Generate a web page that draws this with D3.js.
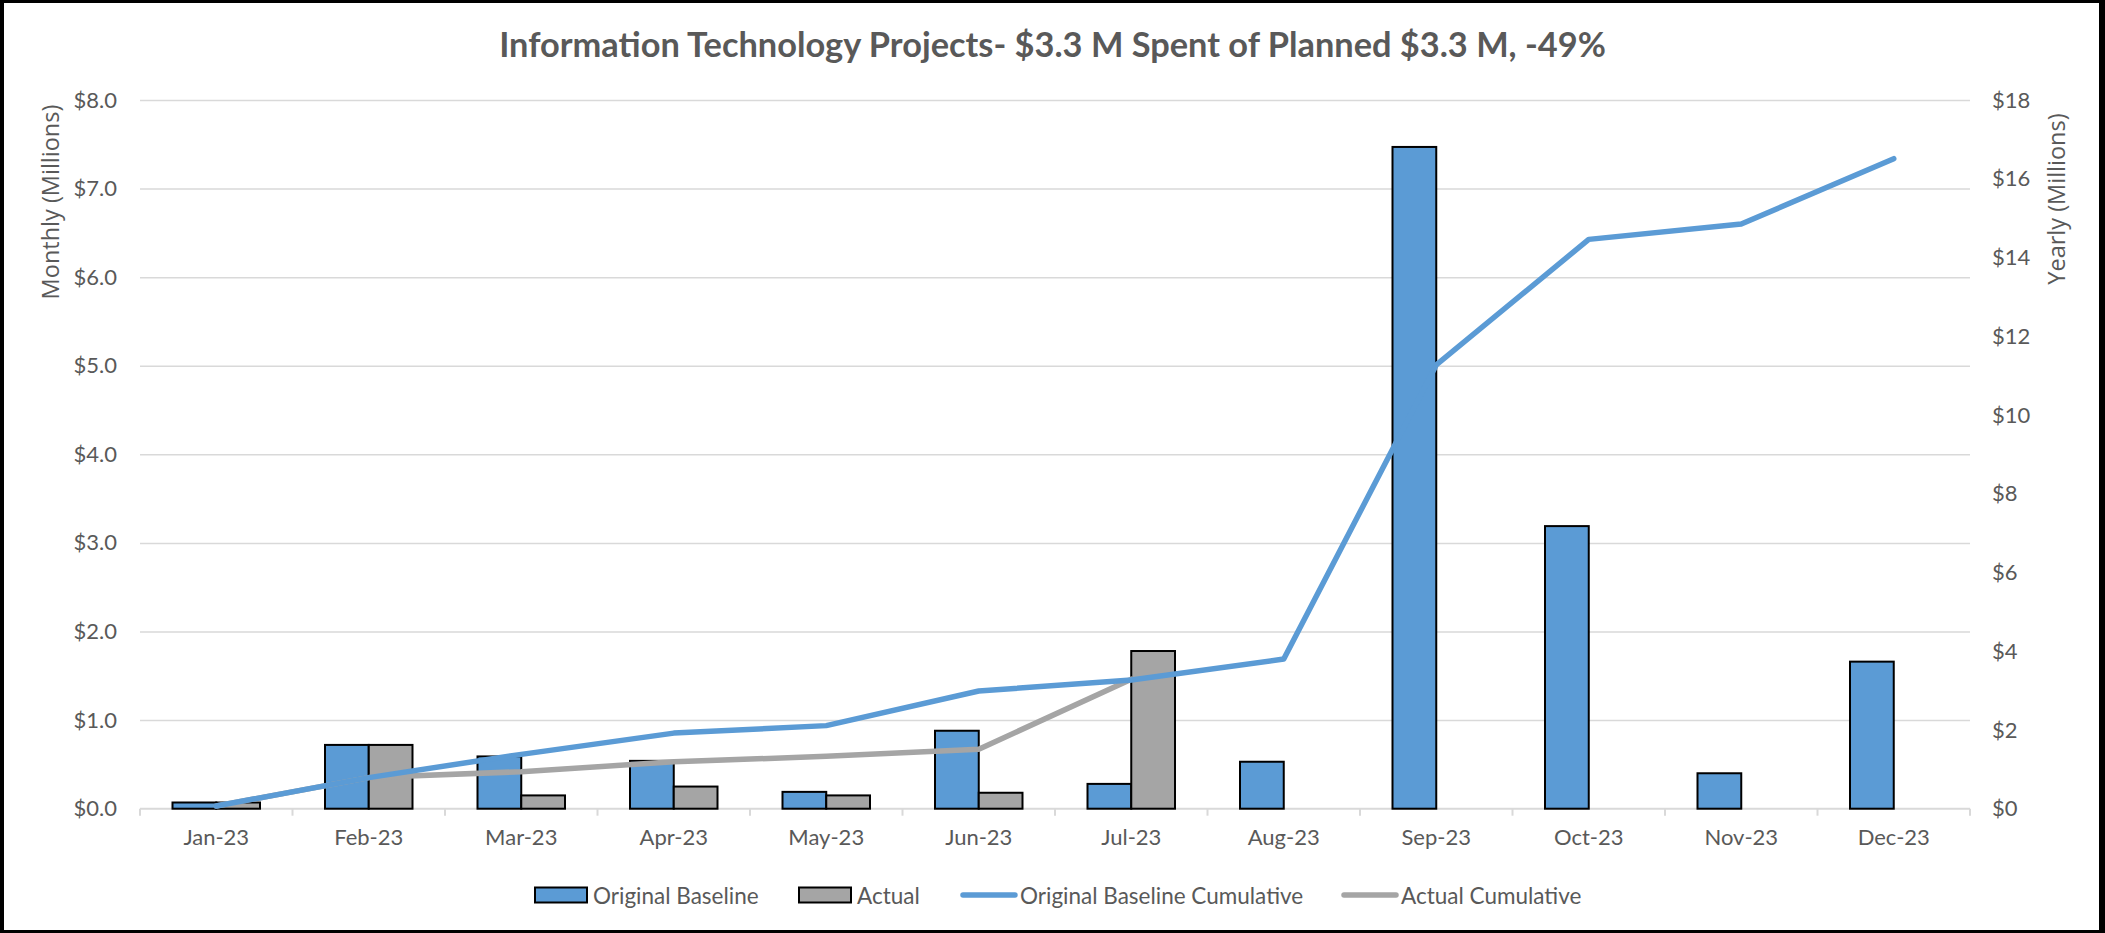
<!DOCTYPE html>
<html>
<head>
<meta charset="utf-8">
<script src="https://cdn.jsdelivr.net/npm/d3@7"></script>
<style>
  body { margin: 0; background: #fff; }
  svg { display: block; }
  text { fill: #595959; font-family: Lato, "Liberation Sans", sans-serif; }
</style>
</head>
<body>
<script>
// chart values (millions)
var months = ["Jan-23", "Feb-23", "Mar-23", "Apr-23", "May-23", "Jun-23",
              "Jul-23", "Aug-23", "Sep-23", "Oct-23", "Nov-23", "Dec-23"];
var baseline = [0.07, 0.72, 0.59, 0.54, 0.19, 0.88, 0.28, 0.53, 7.47, 3.19, 0.40, 1.66];
var actual = [0.07, 0.72, 0.15, 0.25, 0.15, 0.18, 1.78, null, null, null, null, null];
var baselineCum = [0.07, 0.79, 1.38, 1.92, 2.11, 2.99, 3.27, 3.80, 11.27, 14.46, 14.85, 16.51];
var actualCum = [0.07, 0.79, 0.94, 1.19, 1.33, 1.51, 3.29, null, null, null, null, null];
var leftTicks = [0, 1, 2, 3, 4, 5, 6, 7, 8];
var rightTicks = [0, 2, 4, 6, 8, 10, 12, 14, 16, 18];
var titleText = "Information Technology Projects- $3.3 M Spent of Planned $3.3 M, -49%";
var seriesNames = ["Original Baseline", "Actual", "Original Baseline Cumulative", "Actual Cumulative"];

(function () {
    var width = 2105, height = 933;
    var left = 140, right = 1970, top = 100, bottom = 808.7;
    var blue = "#5B9BD5", grey = "#A5A5A5", gridColor = "#D9D9D9";

    var svg = d3.select("body").append("svg")
        .attr("width", width)
        .attr("height", height);

    // frame
    svg.append("rect").attr("width", width).attr("height", height).attr("fill", "#000");
    svg.append("rect").attr("x", 4).attr("y", 3)
        .attr("width", width - 10).attr("height", height - 6).attr("fill", "#fff");

    var x = d3.scaleBand().domain(months).range([left, right]).paddingInner(0).paddingOuter(0);
    var xs = d3.scaleBand().domain(["baseline", "actual"])
        .range([0, x.bandwidth()]).paddingInner(0).paddingOuter(0.743);
    var yL = d3.scaleLinear().domain([0, 8]).range([bottom, top]);
    var yR = d3.scaleLinear().domain([0, 18]).range([bottom, top]);

    // gridlines
    var grid = svg.append("g").attr("transform", "translate(" + left + ",0)")
        .call(d3.axisLeft(yL).tickValues(leftTicks.slice(1)).tickSize(-(right - left)).tickFormat(""));
    grid.select(".domain").remove();
    grid.selectAll("line").attr("stroke", gridColor).attr("stroke-width", 1.5);

    // bottom axis line + boundary ticks
    svg.append("line")
        .attr("x1", left).attr("x2", right)
        .attr("y1", yL(0)).attr("y2", yL(0))
        .attr("stroke", gridColor).attr("stroke-width", 2);
    var bounds = months.map(function (m) { return x(m); }).concat([x.range()[1]]);
    svg.append("g").selectAll("line").data(bounds).join("line")
        .attr("x1", function (d) { return d; }).attr("x2", function (d) { return d; })
        .attr("y1", yL(0)).attr("y2", yL(0) + 7)
        .attr("stroke", gridColor).attr("stroke-width", 2);

    // axes labels
    var xAxis = svg.append("g").attr("transform", "translate(0," + yL(0) + ")")
        .call(d3.axisBottom(x).tickSize(0).tickPadding(21));
    var yAxisL = svg.append("g").attr("transform", "translate(" + left + ",0)")
        .call(d3.axisLeft(yL).tickValues(leftTicks).tickSize(0).tickPadding(23)
            .tickFormat(function (d) { return "$" + d.toFixed(1); }));
    var yAxisR = svg.append("g").attr("transform", "translate(" + right + ",0)")
        .call(d3.axisRight(yR).tickValues(rightTicks).tickSize(0).tickPadding(22)
            .tickFormat(function (d) { return "$" + d; }));
    [xAxis, yAxisL, yAxisR].forEach(function (a) {
        a.select(".domain").remove();
        a.selectAll("text")
            .style("font-family", "Lato, sans-serif")
            .style("font-size", "22px")
            .style("fill", "#595959");
    });

    // bars
    var groups = svg.append("g").selectAll("g").data(months).join("g")
        .attr("transform", function (m) { return "translate(" + x(m) + ",0)"; });
    groups.append("rect")
        .attr("x", xs("baseline")).attr("width", xs.bandwidth())
        .attr("y", function (m, i) { return yL(baseline[i]); })
        .attr("height", function (m, i) { return yL(0) - yL(baseline[i]); })
        .attr("fill", blue).attr("stroke", "#000").attr("stroke-width", 2);
    groups.filter(function (m, i) { return actual[i] != null; }).append("rect")
        .attr("x", xs("actual")).attr("width", xs.bandwidth())
        .attr("y", function (m) { return yL(actual[months.indexOf(m)]); })
        .attr("height", function (m) { return yL(0) - yL(actual[months.indexOf(m)]); })
        .attr("fill", grey).attr("stroke", "#000").attr("stroke-width", 2);

    // cumulative lines
    var line = d3.line()
        .defined(function (d) { return d.v != null; })
        .x(function (d) { return x(d.m) + x.bandwidth() / 2; })
        .y(function (d) { return yR(d.v); });
    function pts(arr) { return months.map(function (m, i) { return { m: m, v: arr[i] }; }); }
    svg.append("path").attr("d", line(pts(actualCum)))
        .attr("fill", "none").attr("stroke", grey).attr("stroke-width", 5.5)
        .attr("stroke-linecap", "round").attr("stroke-linejoin", "round");
    svg.append("path").attr("d", line(pts(baselineCum)))
        .attr("fill", "none").attr("stroke", blue).attr("stroke-width", 5.5)
        .attr("stroke-linecap", "round").attr("stroke-linejoin", "round");

    // title
    var title = svg.append("text")
        .attr("x", width / 2).attr("y", 57)
        .attr("text-anchor", "middle")
        .style("font-weight", "bold").style("font-size", "30px")
        .text(titleText);
    var tw = title.node().getComputedTextLength();
    title.style("font-size", (30 * 1107 / tw) + "px");

    // axis titles
    svg.append("text")
        .attr("transform", "translate(50,202) rotate(-90)")
        .attr("text-anchor", "middle").attr("dominant-baseline", "central")
        .style("font-family", "'Open Sans', sans-serif").style("font-size", "23.5px")
        .text("Monthly (Millions)");
    svg.append("text")
        .attr("transform", "translate(2056,199) rotate(-90)")
        .attr("text-anchor", "middle").attr("dominant-baseline", "central")
        .style("font-family", "'Open Sans', sans-serif").style("font-size", "23.5px")
        .text("Yearly (Millions)");

    // legend
    var legendY = 895;
    var items = [
        { name: seriesNames[0], kind: "bar", color: blue, x: 535 },
        { name: seriesNames[1], kind: "bar", color: grey, x: 799 },
        { name: seriesNames[2], kind: "line", color: blue, x: 961 },
        { name: seriesNames[3], kind: "line", color: grey, x: 1342 }
    ];
    var lg = svg.append("g").selectAll("g").data(items).join("g")
        .attr("transform", function (d) { return "translate(" + d.x + "," + legendY + ")"; });
    lg.filter(function (d) { return d.kind === "bar"; }).append("rect")
        .attr("x", 0).attr("y", -7.5).attr("width", 52).attr("height", 15)
        .attr("fill", function (d) { return d.color; })
        .attr("stroke", "#000").attr("stroke-width", 2);
    lg.filter(function (d) { return d.kind === "line"; }).append("line")
        .attr("x1", 2).attr("x2", 54).attr("y1", 0).attr("y2", 0)
        .attr("stroke", function (d) { return d.color; })
        .attr("stroke-width", 5.5).attr("stroke-linecap", "round");
    lg.append("text")
        .attr("x", function (d) { return d.kind === "bar" ? 58 : 59; })
        .attr("y", 0).attr("dominant-baseline", "central")
        .style("font-size", "22.5px")
        .text(function (d) { return d.name; });
})();
</script>
</body>
</html>
